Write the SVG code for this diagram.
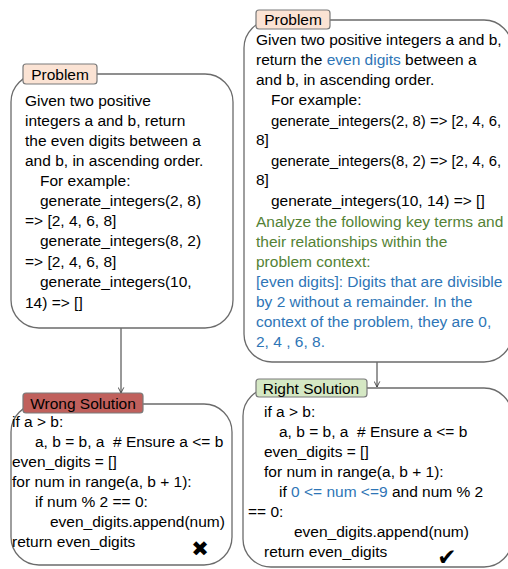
<svg xmlns="http://www.w3.org/2000/svg" width="508" height="569" viewBox="0 0 508 569">
<style>
text{font-family:"Liberation Sans",Arial,sans-serif;font-size:15.5px;fill:#000}
.box{fill:#fff;stroke:#6b6b6b;stroke-width:1.3}
.tab{stroke:#7a7a7a;stroke-width:1.2}
.blue{fill:#2e75b6}
.green{fill:#548235}
.conn{stroke:#333;stroke-width:1;fill:none}
.sym{font-family:"DejaVu Sans",sans-serif}
.tight{font-size:14.9px}
</style>
<defs>
<marker id="arr" viewBox="0 0 10 10" refX="9" refY="5" markerWidth="7" markerHeight="7" orient="auto" markerUnits="userSpaceOnUse">
<path d="M1,1 L9,5 L1,9" fill="none" stroke="#333" stroke-width="1.2"/>
</marker>
</defs>
<rect width="508" height="569" fill="#fff"/>
<g id="connectors">
<line class="conn" x1="121" y1="328" x2="121" y2="393" marker-end="url(#arr)"/>
<line class="conn" x1="377" y1="362" x2="377" y2="387" marker-end="url(#arr)"/>
</g>
<g id="problem-left">
<rect class="box" x="11" y="74" width="222" height="254" rx="28"/>
<rect class="tab" x="23" y="64" width="74" height="20" rx="3" fill="#fbe3d4"/>
<text x="60" y="80" text-anchor="middle">Problem</text>
<text x="25" y="106">Given two positive</text>
<text x="25" y="126">integers a and b, return</text>
<text x="25" y="146">the even digits between a</text>
<text x="25" y="166">and b, in ascending order.</text>
<text x="40" y="186">For example:</text>
<text x="40" y="206">generate_integers(2, 8)</text>
<text x="25" y="226">=&gt; [2, 4, 6, 8]</text>
<text x="40" y="246">generate_integers(8, 2)</text>
<text x="25" y="267">=&gt; [2, 4, 6, 8]</text>
<text x="40" y="287">generate_integers(10,</text>
<text x="25" y="308">14) =&gt; []</text>
</g>
<g id="problem-right">
<rect class="box" x="244" y="20" width="268" height="342" rx="28"/>
<rect class="tab" x="256" y="10" width="74" height="19" rx="3" fill="#fbe3d4"/>
<text x="293" y="25" text-anchor="middle">Problem</text>
<text x="256" y="45">Given two positive integers a and b,</text>
<text x="256" y="65">return the <tspan class="blue">even digits</tspan> between a</text>
<text x="256" y="85">and b, in ascending order.</text>
<text x="271" y="105">For example:</text>
<text class="tight" x="271" y="126">generate_integers(2, 8) =&gt; [2, 4, 6,</text>
<text x="256" y="145">8]</text>
<text class="tight" x="271" y="166">generate_integers(8, 2) =&gt; [2, 4, 6,</text>
<text x="256" y="185">8]</text>
<text x="271" y="206">generate_integers(10, 14) =&gt; []</text>
<text class="green" x="256" y="227">Analyze the following key terms and</text>
<text class="green" x="256" y="247">their relationships within the</text>
<text class="green" x="256" y="267">problem context:</text>
<text class="blue" x="256" y="287">[even digits]: Digits that are divisible</text>
<text class="blue" x="256" y="307">by 2 without a remainder. In the</text>
<text class="blue" x="256" y="327">context of the problem, they are 0,</text>
<text class="blue" x="256" y="347">2, 4 , 6, 8.</text>
</g>
<g id="wrong-solution">
<rect class="box" x="11" y="404" width="221" height="161" rx="28"/>
<rect class="tab" x="23" y="393" width="120" height="20" rx="3" fill="#c0605c"/>
<text x="83" y="409" text-anchor="middle">Wrong Solution</text>
<text x="12" y="427">if a &gt; b:</text>
<text x="35" y="447" xml:space="preserve">a, b = b, a  # Ensure a &lt;= b</text>
<text x="12" y="467">even_digits = []</text>
<text x="12" y="487">for num in range(a, b + 1):</text>
<text x="35" y="507">if num % 2 == 0:</text>
<text x="50" y="527">even_digits.append(num)</text>
<text x="12" y="547">return even_digits</text>
<text class="sym" x="200" y="556" text-anchor="middle" style="font-size:21px">✖</text>
</g>
<g id="right-solution">
<rect class="box" x="243" y="388" width="269" height="179" rx="28"/>
<rect class="tab" x="256" y="379" width="111" height="18" rx="3" fill="#d5e8c4"/>
<text x="311" y="394" text-anchor="middle">Right Solution</text>
<text x="264" y="417">if a &gt; b:</text>
<text x="279" y="437" xml:space="preserve">a, b = b, a  # Ensure a &lt;= b</text>
<text x="264" y="457">even_digits = []</text>
<text x="264" y="477">for num in range(a, b + 1):</text>
<text x="279" y="497">if <tspan class="blue">0 &lt;= num &lt;=9</tspan> and num % 2</text>
<text x="248" y="517">== 0:</text>
<text x="294" y="537">even_digits.append(num)</text>
<text x="264" y="557">return even_digits</text>
<text class="sym" x="447" y="565" text-anchor="middle" style="font-size:23px">✔</text>
</g>
</svg>
